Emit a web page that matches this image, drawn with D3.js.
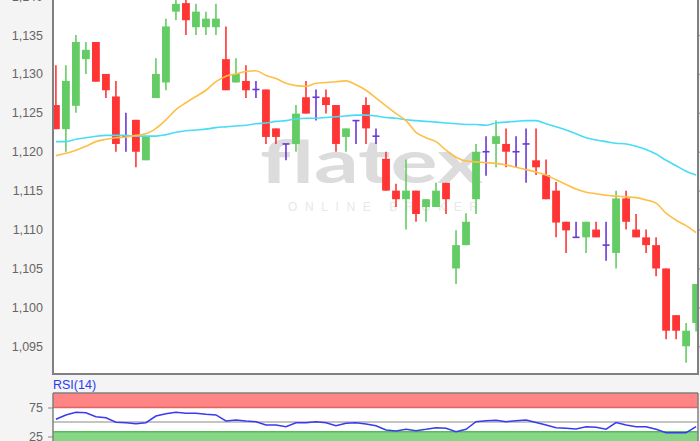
<!DOCTYPE html>
<html>
<head>
<meta charset="utf-8">
<script src="https://cdn.jsdelivr.net/npm/d3@7"></script>
<style>
  body { margin: 0; background: #f4f4f4; }
  svg { display: block; font-family: "Liberation Sans", Arial, sans-serif; }
</style>
</head>
<body>
<div id="chart"></div>
<script>
// candle data (EUR/USD style quotes)
var opens  = [1.1260,1.1229,1.1259,1.1319,1.1341,1.1300,1.1271,1.1220,1.1241,1.1189,
              1.1269,1.1289,1.1380,1.1391,1.1360,1.1360,1.1360,1.1319,1.1289,1.1291,
              1.1280,1.1280,1.1230,1.1210,1.1210,1.1270,1.1270,1.1270,1.1260,1.1219,
              1.1240,1.1260,1.1220,1.1191,1.1150,1.1139,1.1150,1.1129,1.1129,1.1160,
              1.1050,1.1080,1.1139,1.1200,1.1210,1.1210,1.1200,1.1210,1.1189,1.1170,
              1.1150,1.1110,1.1090,1.1090,1.1100,1.1080,1.1070,1.1140,1.1100,1.1090,
              1.1080,1.1050,1.0990,1.0950,1.0980];
var highs  = [1.1311,1.1311,1.1350,1.1341,1.1341,1.1300,1.1291,1.1250,1.1241,1.1219,
              1.1320,1.1371,1.1398,1.1398,1.1390,1.1380,1.1390,1.1361,1.1320,1.1311,
              1.1291,1.1280,1.1230,1.1210,1.1260,1.1291,1.1280,1.1280,1.1260,1.1230,
              1.1240,1.1270,1.1230,1.1200,1.1159,1.1190,1.1150,1.1139,1.1160,1.1160,
              1.1099,1.1121,1.1210,1.1220,1.1240,1.1230,1.1220,1.1230,1.1230,1.1190,
              1.1161,1.1110,1.1110,1.1110,1.1110,1.1110,1.1150,1.1150,1.1120,1.1100,
              1.1090,1.1050,1.0990,1.0980,1.1030];
var lows   = [1.1229,1.1200,1.1250,1.1300,1.1290,1.1269,1.1200,1.1200,1.1180,1.1189,
              1.1269,1.1279,1.1369,1.1350,1.1350,1.1350,1.1350,1.1279,1.1289,1.1269,
              1.1269,1.1210,1.1210,1.1189,1.1200,1.1249,1.1240,1.1249,1.1200,1.1200,
              1.1210,1.1210,1.1210,1.1150,1.1129,1.1100,1.1110,1.1110,1.1129,1.1120,
              1.1030,1.1080,1.1120,1.1169,1.1180,1.1180,1.1180,1.1160,1.1170,1.1139,
              1.1090,1.1070,1.1090,1.1070,1.1090,1.1060,1.1050,1.1100,1.1090,1.1070,
              1.1040,1.0959,1.0959,1.0929,1.0969];
var closes = [1.1229,1.1291,1.1341,1.1331,1.1290,1.1279,1.1210,1.1220,1.1200,1.1219,
              1.1300,1.1361,1.1390,1.1369,1.1380,1.1371,1.1371,1.1279,1.1300,1.1279,
              1.1280,1.1219,1.1219,1.1210,1.1249,1.1249,1.1270,1.1260,1.1210,1.1230,
              1.1240,1.1230,1.1220,1.1150,1.1139,1.1150,1.1120,1.1139,1.1150,1.1139,
              1.1080,1.1110,1.1200,1.1200,1.1220,1.1200,1.1200,1.1210,1.1180,1.1139,
              1.1109,1.1099,1.1090,1.1110,1.1090,1.1080,1.1140,1.1110,1.1090,1.1080,
              1.1050,1.0970,1.0970,1.0970,1.1030];

// moving averages (orange = short, cyan = long)
var maShort = [1.1195,1.1198,1.1202,1.1207,1.1213,1.1216,1.1218,1.1219,1.1221,1.1223,
               1.1230,1.1241,1.1254,1.1263,1.1271,1.1279,1.1290,1.1297,1.1300,1.1303,
               1.1304,1.1298,1.1294,1.1288,1.1285,1.1284,1.1288,1.1289,1.1290,1.1291,
               1.1286,1.1279,1.1269,1.1259,1.1249,1.1240,1.1225,1.1218,1.1213,1.1202,
               1.1193,1.1188,1.1187,1.1186,1.1185,1.1183,1.1180,1.1177,1.1174,1.1170,
               1.1164,1.1158,1.1152,1.1148,1.1146,1.1144,1.1143,1.1142,1.1141,1.1138,
               1.1134,1.1121,1.1112,1.1105,1.1096];
var maLong  = [1.1213,1.1213,1.1216,1.1218,1.1220,1.1221,1.1221,1.1221,1.1220,1.1220,
               1.1220,1.1222,1.1225,1.1227,1.1228,1.1229,1.1231,1.1232,1.1233,1.1234,
               1.1236,1.1237,1.1239,1.1240,1.1242,1.1243,1.1243,1.1244,1.1245,1.1246,
               1.1247,1.1247,1.1246,1.1244,1.1243,1.1241,1.1240,1.1239,1.1238,1.1237,
               1.1236,1.1235,1.1235,1.1234,1.1237,1.1238,1.1239,1.1240,1.1240,1.1236,
               1.1232,1.1228,1.1223,1.1218,1.1215,1.1213,1.1211,1.1210,1.1207,1.1203,
               1.1197,1.1189,1.1182,1.1175,1.1170];

var rsi = [54.7,62.1,66.7,66.0,59.1,57.4,49.5,48.8,47.1,48.8,
           60.3,64.3,66.7,65.0,65.0,63.3,62.1,51.7,53.4,51.7,
           50.5,44.8,44.8,41.9,48.8,48.8,50.5,48.8,43.6,47.8,
           48.6,46.6,43.6,36.2,34.5,37.4,35.0,37.4,40.2,39.1,
           33.3,37.4,50.5,52.1,52.9,50.5,52.1,53.4,49.1,44.8,
           40.0,39.1,37.9,41.7,40.9,37.6,49.1,44.8,41.9,41.9,
           37.4,31.6,31.6,31.6,41.9];

var priceTicks = [1.095,1.100,1.105,1.110,1.115,1.120,1.125,1.130,1.135,1.140];
var rsiTicks = [25, 75];
var rsiBands = [33, 75]; // oversold / overbought

var W = 700, H = 441;
var plot = {left: 53, right: 698, top: 0, bottom: 374};
var rsiBox = {top: 393, bottom: 441};

var colUp = "#64cc64", colDown = "#ff3535", colDoji = "#6a38d8";

var svg = d3.select("#chart").append("svg")
    .attr("width", W)
    .attr("height", H);

svg.append("rect").attr("width", W).attr("height", H).attr("fill", "#f4f4f4");

var x = d3.scaleBand()
    .domain(d3.range(opens.length))
    .range([52, 700])
    .paddingInner(0.22);

var y = d3.scaleLinear()
    .domain([1.095, 1.135])
    .range([346.3, 35]);

var yr = d3.scaleLinear()
    .domain([0, 100])
    .range([451, 393]);

var fmt = function(d) { return d3.format(".3f")(d).replace(".", ","); };
function cx(i) { return x(i) + x.bandwidth() / 2; }

// ---- main panel ----
svg.append("clipPath").attr("id", "clipMain")
  .append("rect")
    .attr("x", plot.left).attr("y", plot.top)
    .attr("width", plot.right - plot.left).attr("height", plot.bottom - plot.top);

svg.append("rect")
    .attr("x", plot.left).attr("y", plot.top)
    .attr("width", plot.right - plot.left).attr("height", plot.bottom - plot.top)
    .attr("fill", "#fff");

// watermark
var wm = svg.append("g").attr("clip-path", "url(#clipMain)");
wm.append("text")
    .attr("x", 260).attr("y", 183)
    .attr("textLength", 223)
    .attr("lengthAdjust", "spacingAndGlyphs")
    .attr("font-family", "Lato, 'Open Sans', sans-serif")
    .attr("font-weight", 700)
    .attr("font-size", 60)
    .attr("fill", "#dcdcdc")
    .text("flatex");
wm.append("text")
    .attr("x", 288).attr("y", 211)
    .attr("textLength", 190)
    .attr("lengthAdjust", "spacing")
    .attr("font-size", 12)
    .attr("fill", "#e8e8e8")
    .text("ONLINE BROKER");

var yAxis = d3.axisLeft(y)
    .tickValues(priceTicks)
    .tickSize(plot.left - plot.right - 5)
    .tickPadding(4)
    .tickFormat(fmt);

var gy = svg.append("g")
    .attr("transform", "translate(" + plot.right + ",0)")
    .call(yAxis);
gy.select(".domain").remove();
gy.selectAll(".tick line").attr("stroke", "#aaa").attr("stroke-width", 1.5);
gy.selectAll(".tick text")
    .attr("x", -(plot.right - 43))
    .attr("fill", "#666")
    .attr("font-size", 12.5)
    .attr("font-family", "'Liberation Sans', Arial, sans-serif");

var candles = svg.append("g").attr("clip-path", "url(#clipMain)");

var idx = d3.range(opens.length);
function colorOf(i) {
  if (closes[i] > opens[i]) return colUp;
  if (closes[i] < opens[i]) return colDown;
  return colDoji;
}

candles.selectAll(".wick")
    .data(idx)
  .enter().append("line")
    .attr("class", "wick")
    .attr("x1", cx).attr("x2", cx)
    .attr("y1", function(i) { return y(highs[i]); })
    .attr("y2", function(i) { return y(lows[i]); })
    .attr("stroke", colorOf)
    .attr("stroke-width", 1.6);

candles.selectAll(".body")
    .data(idx.filter(function(i) { return opens[i] !== closes[i]; }))
  .enter().append("rect")
    .attr("class", "body")
    .attr("x", function(i) { return x(i); })
    .attr("width", x.bandwidth())
    .attr("y", function(i) { return y(Math.max(opens[i], closes[i])); })
    .attr("height", function(i) { return Math.max(1, y(Math.min(opens[i], closes[i])) - y(Math.max(opens[i], closes[i]))); })
    .attr("fill", colorOf);

candles.selectAll(".doji")
    .data(idx.filter(function(i) { return opens[i] === closes[i]; }))
  .enter().append("line")
    .attr("class", "doji")
    .attr("x1", function(i) { return cx(i) - 3.5; })
    .attr("x2", function(i) { return cx(i) + 3.5; })
    .attr("y1", function(i) { return y(opens[i]); })
    .attr("y2", function(i) { return y(opens[i]); })
    .attr("stroke", colDoji)
    .attr("stroke-width", 1.6);

var maLine = d3.line()
    .x(function(d, i) { return cx(i); })
    .y(function(d) { return y(d); })
    .curve(d3.curveMonotoneX);

candles.append("path")
    .attr("d", maLine(maLong))
    .attr("fill", "none")
    .attr("stroke", "#48dcf6")
    .attr("stroke-width", 1.6);

candles.append("path")
    .attr("d", maLine(maShort))
    .attr("fill", "none")
    .attr("stroke", "#ffbf45")
    .attr("stroke-width", 1.6);

// frame
svg.append("path")
    .attr("d", "M" + plot.left + "," + plot.top + "V" + plot.bottom + "H" + plot.right + "V" + plot.top)
    .attr("fill", "none")
    .attr("stroke", "#808080")
    .attr("stroke-width", 2);

// ---- RSI panel ----
svg.append("text")
    .attr("x", plot.left).attr("y", 389)
    .attr("fill", "#2b3cf0")
    .attr("font-size", 12.5)
    .text("RSI(14)");

svg.append("rect")
    .attr("x", plot.left).attr("y", rsiBox.top)
    .attr("width", plot.right - plot.left).attr("height", rsiBox.bottom - rsiBox.top + 5)
    .attr("fill", "#fff");

svg.append("rect")
    .attr("x", plot.left).attr("y", rsiBox.top)
    .attr("width", plot.right - plot.left).attr("height", yr(rsiBands[1]) - rsiBox.top)
    .attr("fill", "#ff8585");
svg.append("line")
    .attr("x1", plot.left).attr("x2", plot.right)
    .attr("y1", yr(rsiBands[1])).attr("y2", yr(rsiBands[1]))
    .attr("stroke", "#e06464").attr("stroke-width", 1.5);

svg.append("rect")
    .attr("x", plot.left).attr("y", yr(rsiBands[0]))
    .attr("width", plot.right - plot.left).attr("height", rsiBox.bottom - yr(rsiBands[0]) + 5)
    .attr("fill", "#85d685");
svg.append("line")
    .attr("x1", plot.left).attr("x2", plot.right)
    .attr("y1", yr(rsiBands[0])).attr("y2", yr(rsiBands[0]))
    .attr("stroke", "#5cb85c").attr("stroke-width", 1.5);

svg.append("line")
    .attr("x1", plot.left).attr("x2", plot.right)
    .attr("y1", yr(50)).attr("y2", yr(50))
    .attr("stroke", "#b0b0b0").attr("stroke-width", 1.5);

var rsiAxis = d3.axisLeft(yr)
    .tickValues(rsiTicks)
    .tickSize(5)
    .tickPadding(5);
var gr = svg.append("g")
    .attr("transform", "translate(" + plot.left + ",0)")
    .call(rsiAxis);
gr.select(".domain").remove();
gr.selectAll(".tick line").attr("stroke", "#888");
gr.selectAll(".tick text")
    .attr("fill", "#666")
    .attr("font-size", 12.5)
    .attr("font-family", "'Liberation Sans', Arial, sans-serif");

var rsiLine = d3.line()
    .x(function(d, i) { return cx(i); })
    .y(function(d) { return yr(d); });

svg.append("path")
    .attr("d", rsiLine(rsi))
    .attr("fill", "none")
    .attr("stroke", "#3a3af0")
    .attr("stroke-width", 1.5);

svg.append("path")
    .attr("d", "M" + plot.left + "," + rsiBox.top + "V" + (H + 2) + "M" + plot.right + "," + rsiBox.top + "V" + (H + 2) + "M" + plot.left + "," + rsiBox.top + "H" + plot.right)
    .attr("fill", "none")
    .attr("stroke", "#808080")
    .attr("stroke-width", 1.5);
</script>
</body>
</html>
